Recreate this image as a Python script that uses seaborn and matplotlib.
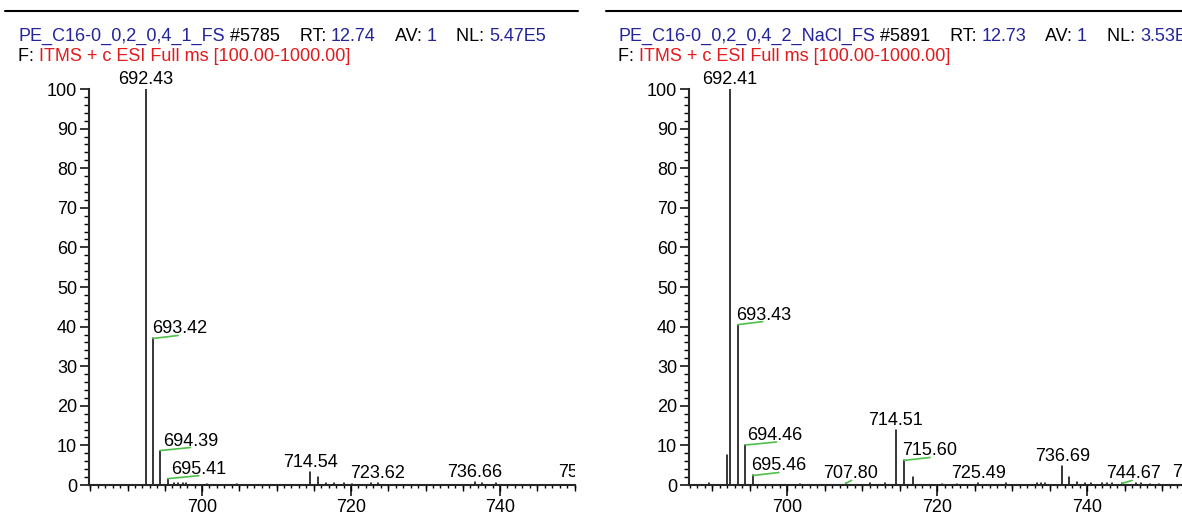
import numpy as np
import pandas as pd
import seaborn as sns
import matplotlib.pyplot as plt
from matplotlib.lines import Line2D
from matplotlib.ticker import MultipleLocator

# scan 1: PE_C16-0_0,2_0,4_1_FS
left_mz = [692.43, 693.42, 694.39, 695.41, 696.3, 696.8, 697.4, 697.9, 700.7, 704.7,
           714.54, 715.55, 716.7, 717.7, 719.1, 720.1, 722.7, 723.62, 736.66, 737.6,
           739.5, 751.46]
left_int = [100, 37.0, 8.7, 1.6, 0.5, 0.4, 0.5, 0.4, 0.3, 0.3,
            3.2, 2.1, 0.4, 0.4, 0.4, 0.3, 0.4, 0.4, 0.8, 0.4,
            0.4, 0.8]
left_labels = [692.43, 693.42, 694.39, 695.41, 714.54, 723.62, 736.66, 751.46]

# scan 2: PE_C16-0_0,2_0,4_2_NaCl_FS
right_mz = [689.6, 691.95, 692.41, 693.43, 694.46, 695.46, 701.7, 707.80, 711.0, 713.0,
            714.51, 715.60, 716.8, 720.7, 722.6, 725.49, 729.2, 733.3, 733.8, 734.4,
            736.69, 737.6, 738.6, 739.7, 740.5, 742.0, 742.7, 743.3, 744.67, 746.5,
            747.2, 748.4, 749.6, 755.02]
right_int = [0.4, 7.6, 100, 40.5, 10.1, 2.4, 0.3, 0.4, 0.5, 0.5,
             13.8, 6.2, 1.9, 0.3, 0.3, 0.4, 0.4, 0.5, 0.5, 0.5,
             4.9, 2.1, 0.7, 0.4, 0.4, 0.4, 0.4, 0.4, 0.4, 0.4,
             0.4, 0.3, 0.3, 0.8]
right_labels = [692.41, 693.43, 694.46, 695.46, 707.80, 714.51, 715.60, 725.49,
                736.69, 744.67, 755.02]

BLUE = "#23239b"
RED = "#e31a1c"
GREEN = "#4fbf4a"

left_head = [("PE_C16-0_0,2_0,4_1_FS", BLUE), (" #5785    RT: ", "black"), ("12.74", BLUE),
             ("    AV: ", "black"), ("1", BLUE), ("    NL: ", "black"), ("5.47E5", BLUE)]
right_head = [("PE_C16-0_0,2_0,4_2_NaCl_FS", BLUE), (" #5891    RT: ", "black"), ("12.73", BLUE),
              ("    AV: ", "black"), ("1", BLUE), ("    NL: ", "black"), ("3.53E5", BLUE)]
filter_line = [("F: ", "black"), ("ITMS + c ESI Full ms [100.00-1000.00]", RED)]

# labels moved off their peak: (ha, text dx px, green leader length px)
left_moved = {693.42: ("left", -1, 25), 694.39: ("left", 3, 30), 695.41: ("left", 3, 31)}
right_moved = {693.43: ("left", -2, 25), 694.46: ("left", 2, 31), 695.46: ("left", -2, 26),
               715.60: ("left", -2, 26), 707.80: ("center", 5, 6), 744.67: ("center", 11, 10)}

sns.set_style("ticks")
plt.rcParams["font.family"] = ["Liberation Sans", "DejaVu Sans"]
FS = 13

W, H = 1182, 516
fig = plt.figure(figsize=(W / 100, H / 100), dpi=100)
axL = fig.add_axes([89 / W, 31 / H, 486 / W, 396 / H])
axR = fig.add_axes([689 / W, 31 / H, 493 / W, 396 / H])


def stems(mz, inten):
    n = len(mz)
    return pd.DataFrame({
        "mz": np.repeat(mz, 2),
        "rel": np.column_stack([np.zeros(n), inten]).ravel(),
        "peak": np.repeat(np.arange(n), 2),
    })


def header(ax, x, y, parts):
    prev = ax.annotate(parts[0][0], xy=(x, y), xycoords="figure pixels", color=parts[0][1],
                       fontsize=FS, ha="left", va="baseline", annotation_clip=False)
    for s, c in parts[1:]:
        prev = ax.annotate(s, xy=(1, 0), xycoords=prev, color=c, fontsize=FS,
                           ha="left", va="bottom", annotation_clip=False)


def draw(ax, mz, inten, labels, moved, xlim):
    sns.lineplot(data=stems(mz, inten), x="mz", y="rel", units="peak", estimator=None,
                 color="black", linewidth=1.1, ax=ax)
    ax.set(xlim=xlim, ylim=(0, 100), xlabel="", ylabel="")
    sns.despine(ax=ax)
    for s in ("left", "bottom"):
        ax.spines[s].set_linewidth(1.5)

    ax.xaxis.set_major_locator(MultipleLocator(20))
    ax.xaxis.set_minor_locator(MultipleLocator(1))
    ax.yaxis.set_major_locator(MultipleLocator(10))
    ax.yaxis.set_minor_locator(MultipleLocator(2))
    ax.tick_params(which="both", direction="out", color="black", labelcolor="black")
    ax.tick_params(axis="x", which="major", length=8, width=1.1, labelsize=FS, pad=2)
    ax.tick_params(axis="x", which="minor", length=2.5, width=1.0)
    ax.tick_params(axis="y", which="major", length=6.5, width=1.1, labelsize=FS, pad=2)
    ax.tick_params(axis="y", which="minor", length=3.6, width=1.0)

    sec = ax.secondary_xaxis("bottom")
    sec.xaxis.set_major_locator(MultipleLocator(5))
    sec.tick_params(length=4.3, width=1.0, color="black", labelbottom=False)
    sec.spines["bottom"].set_visible(False)

    for m in labels:
        i = inten[int(np.argmin(np.abs(np.array(mz) - m)))]
        ha, dx, lead = moved.get(m, ("center", 0, 0))
        ax.annotate(f"{m:.2f}", xy=(m, i), xytext=(dx, 5), textcoords="offset pixels",
                    ha=ha, va="baseline", fontsize=FS, color="black",
                    annotation_clip=False, clip_on=m > xlim[1])
        if lead:
            ax.annotate("", xy=(m, i), xytext=(lead, 3), textcoords="offset pixels",
                        annotation_clip=False,
                        arrowprops=dict(arrowstyle="-", color=GREEN, lw=1.2,
                                        shrinkA=0, shrinkB=0))


draw(axL, left_mz, left_int, left_labels, left_moved, (684.83, 750.06))
draw(axR, right_mz, right_int, right_labels, right_moved, (686.93, 752.66))

header(axL, 18, H - 41, left_head)
header(axL, 18, H - 61, filter_line)
header(axR, 618, H - 41, right_head)
header(axR, 618, H - 61, filter_line)

fig.add_artist(Line2D([5 / W, 578 / W], [1 - 11 / H] * 2, color="black", lw=1.5,
                      transform=fig.transFigure))
fig.add_artist(Line2D([606 / W, 1.0], [1 - 11 / H] * 2, color="black", lw=1.5,
                      transform=fig.transFigure))

fig.savefig("out.png", dpi=100)
